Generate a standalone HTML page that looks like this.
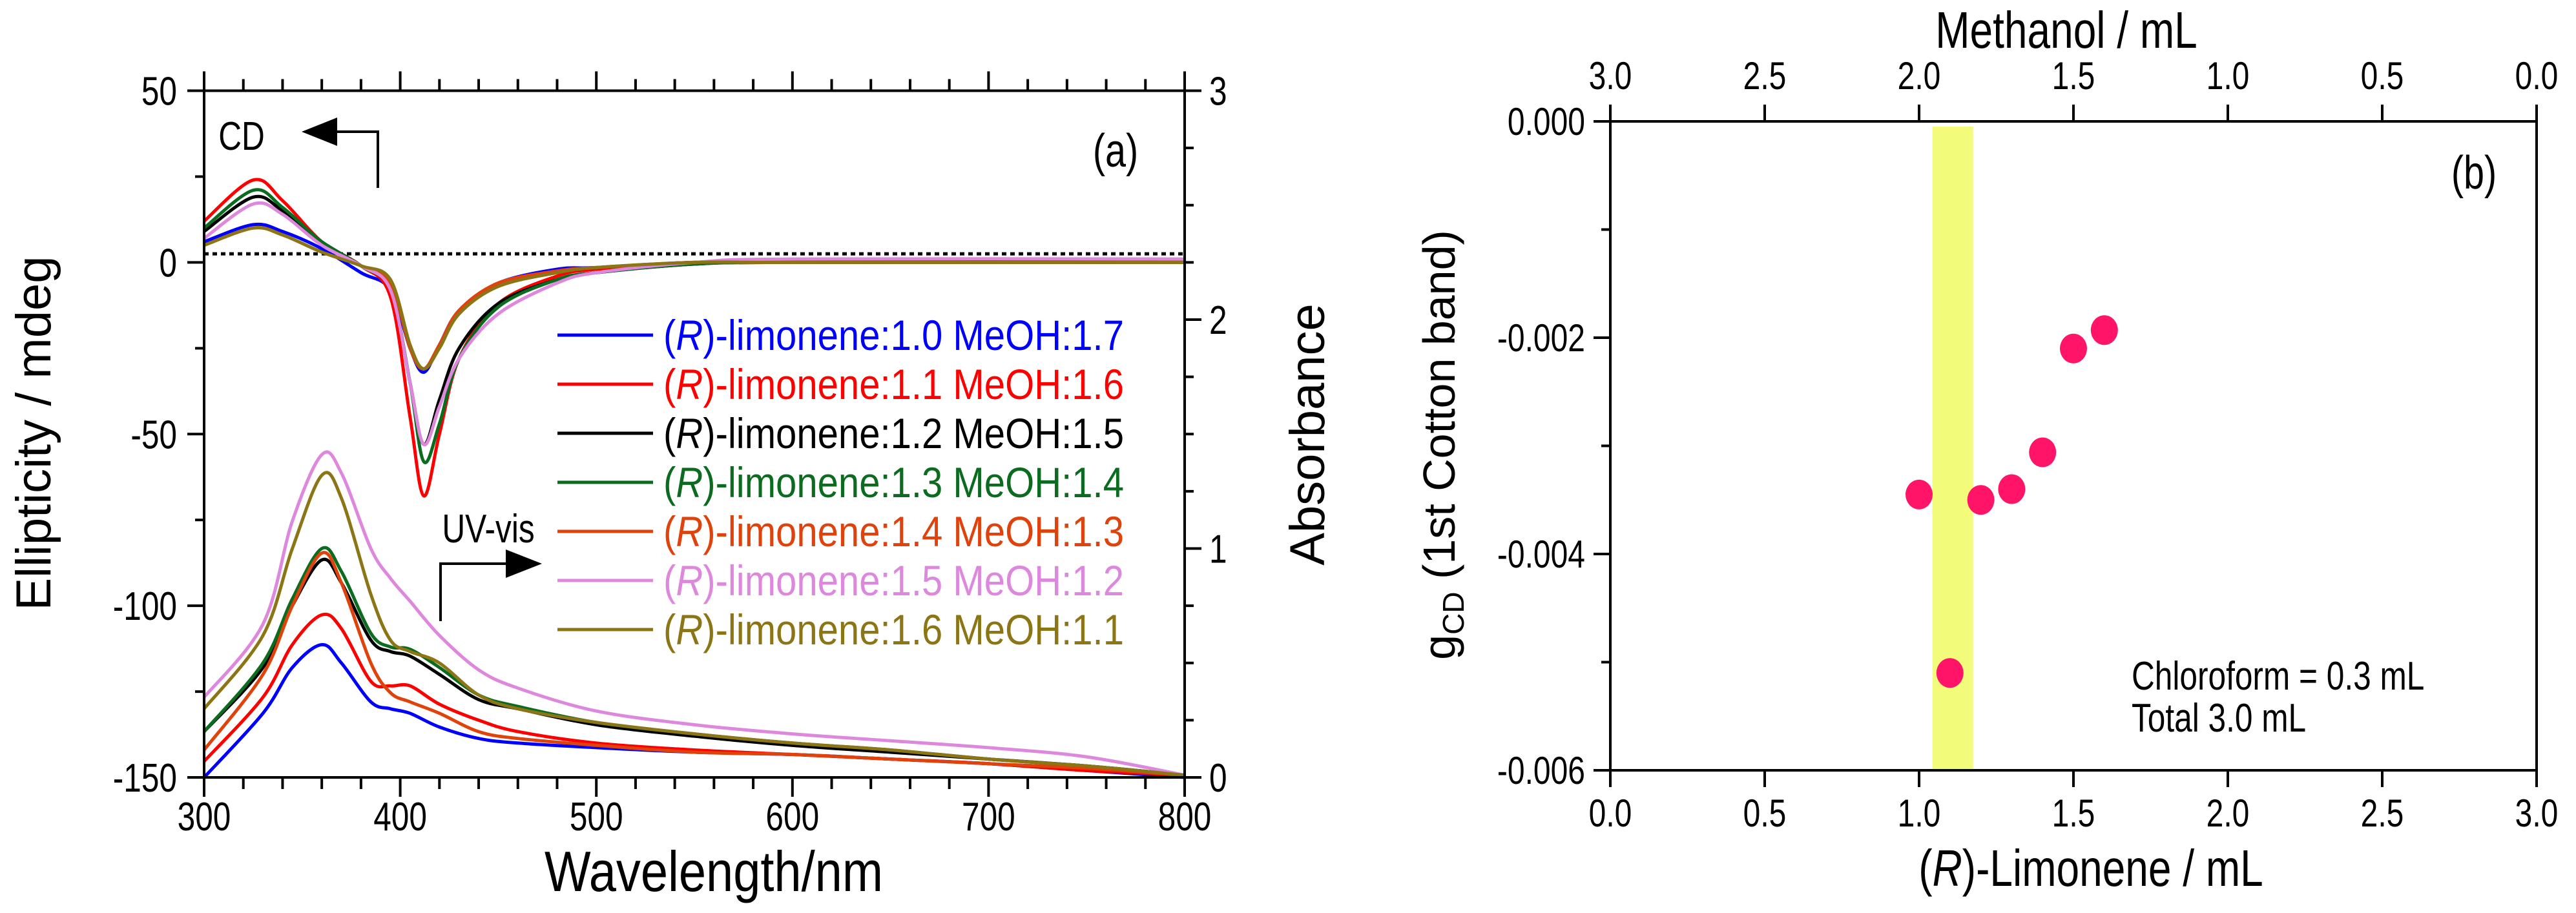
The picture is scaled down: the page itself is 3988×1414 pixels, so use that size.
<!DOCTYPE html>
<html><head><meta charset="utf-8"><style>
html,body{margin:0;padding:0;background:#fff}
svg text{font-family:"Liberation Sans Narrow","Liberation Sans",sans-serif;fill:#000}
.w{font-family:"Liberation Sans",sans-serif}
</style></head><body>
<svg id="fig" width="3988" height="1409" viewBox="0 0 3988 1409" xmlns="http://www.w3.org/2000/svg">
<g id="pa"></g>
<g id="pb"></g>
</svg>
<script>
// ---- Panel (a) data ----
const cdWl = [300,325,340,360,380,395,405,412,420,430,450,480,500,550,600,800];
const cdBlue   = [6,11,9,4,-3,-8,-25,-32,-24,-14,-6,-2,-1.5,0,0,0];
const cdRed    = [12,24,18,6,-1,-10,-45,-68,-50,-28,-12,-4,-2,0,0.5,0];
const cdBlack  = [9,19,15,6,-1,-8,-35,-53,-40,-25,-12,-5,-3,-0.5,0,0];
const cdGreen  = [10,21,16,6,-1,-8,-35,-58,-47,-28,-13,-5,-3,-0.5,0,0];
const cdOrange = [5,10,8,3,-1,-6,-25,-31,-24,-14,-6,-2.5,-1.5,0,0,0];
const cdPink   = [7,17,14,5,-1,-8,-35,-53,-42,-28,-15,-6,-3,0,1,1];
const cdOlive  = [5,10,8,3,-1,-5,-24,-31,-25,-15,-7,-3,-1.5,0,0,0];
const uvWl = [300,330,345,360,370,385,395,405,420,440,460,500,550,600,650,700,750,800];
const uvBlue   = [0.0,0.28,0.48,0.58,0.5,0.33,0.3,0.28,0.22,0.17,0.15,0.13,0.11,0.1,0.08,0.06,0.03,0.0];
const uvRed    = [0.07,0.35,0.58,0.71,0.65,0.42,0.4,0.4,0.32,0.25,0.2,0.15,0.12,0.1,0.08,0.06,0.03,0.01];
const uvBlack  = [0.2,0.48,0.75,0.95,0.85,0.6,0.55,0.53,0.45,0.34,0.3,0.23,0.18,0.14,0.11,0.08,0.05,0.01];
const uvGreen  = [0.2,0.5,0.78,1.0,0.9,0.63,0.57,0.56,0.48,0.36,0.31,0.24,0.19,0.15,0.12,0.08,0.05,0.01];
const uvOrange = [0.12,0.45,0.75,0.98,0.85,0.5,0.37,0.33,0.28,0.2,0.17,0.14,0.11,0.1,0.08,0.06,0.04,0.01];
const uvPink   = [0.35,0.67,1.12,1.41,1.33,1.0,0.87,0.77,0.62,0.47,0.39,0.29,0.23,0.19,0.16,0.13,0.09,0.01];
const uvOlive  = [0.3,0.62,1.0,1.32,1.22,0.8,0.6,0.55,0.5,0.36,0.3,0.24,0.19,0.15,0.12,0.08,0.05,0.01];
const seriesLabels = ["1.0 MeOH:1.7","1.1 MeOH:1.6","1.2 MeOH:1.5","1.3 MeOH:1.4","1.4 MeOH:1.3","1.5 MeOH:1.2","1.6 MeOH:1.1"];
const xTicksA = [300,400,500,600,700,800];
const yTicksA = [50,0,-50,-100,-150];
const yTicksA2 = [0,1,2,3];
// ---- Panel (b) data ----
const limonene = [1.0,1.1,1.2,1.3,1.4,1.5,1.6];
const gcd = [-0.00345,-0.0051,-0.0035,-0.0034,-0.00306,-0.0021,-0.00193];
const xTicksB = [0,0.5,1.0,1.5,2.0,2.5,3.0];
const yTicksB = [0,-0.002,-0.004,-0.006];
const bandRange = [1.043,1.175];

const NS="http://www.w3.org/2000/svg";
function mk(p,tag,at,txt){const e=document.createElementNS(NS,tag);for(const k in at)e.setAttribute(k,at[k]);if(txt!==undefined)e.textContent=txt;p.appendChild(e);return e;}
// narrow text: horizontally compressed
function nt(p,x,y,fs,anchor,txt){return mk(p,'text',{x:0,y:0,'font-size':fs,'text-anchor':anchor,transform:`translate(${x},${y}) scale(0.8,1)`},txt);}
const colors=["#0000ff","#ff0000","#000000","#0b6b1e","#e0420c","#dd88dd","#8b7514"];
const cdS=[cdBlue,cdRed,cdBlack,cdGreen,cdOrange,cdPink,cdOlive];
const uvS=[uvBlue,uvRed,uvBlack,uvGreen,uvOrange,uvPink,uvOlive];
const names=["blue","red","black","green","orange","pink","olive"];

// axes a
const AX0=316,AX1=1834,AY0=140.5,AY1=1204;
const xa=v=>AX0+(v-300)/500*(AX1-AX0);
const ya=v=>AY1-(v+150)/200*(AY1-AY0);
const ya2=v=>AY1-v/3*(AY1-AY0);
function smooth(pts){let d=`M${pts[0][0]},${pts[0][1]}`;for(let i=0;i<pts.length-1;i++){const p0=pts[Math.max(0,i-1)],p1=pts[i],p2=pts[i+1],p3=pts[Math.min(pts.length-1,i+2)];
const c1=[p1[0]+(p2[0]-p0[0])/6,p1[1]+(p2[1]-p0[1])/6],c2=[p2[0]-(p3[0]-p1[0])/6,p2[1]-(p3[1]-p1[1])/6];d+=`C${c1[0].toFixed(1)},${c1[1].toFixed(1)} ${c2[0].toFixed(1)},${c2[1].toFixed(1)} ${p2[0].toFixed(1)},${p2[1].toFixed(1)}`;}return d;}
const pa=document.getElementById('pa');
let e=mk(pa,'line',{x1:AX0,x2:AX1,y1:ya(2.5),y2:ya(2.5),stroke:'#000','stroke-width':5,'stroke-dasharray':'7,6'});


for(let s=0;s<7;s++){
 e=mk(pa,'path',{d:smooth(cdWl.map((w,i)=>[xa(w),ya(cdS[s][i])])),fill:'none',stroke:colors[s],'stroke-width':5});
 
 
 e=mk(pa,'path',{d:smooth(uvWl.map((w,i)=>[xa(w),ya2(uvS[s][i])])),fill:'none',stroke:colors[s],'stroke-width':5});
 
 
}
e=mk(pa,'path',{d:`M${AX0},${AY0}H${AX1}M${AX0},${AY1}H${AX1}M${AX0},${AY0}V${AY1}M${AX1},${AY0}V${AY1}`,stroke:'#000','stroke-width':4,fill:'none'});


let tk='';
for(let w=300;w<=800;w+=20){const x=xa(w),L=(w%100===0)?30:18;tk+=`M${x},${AY1}V${AY1+L}M${x},${AY0}V${AY0-L}`;}
for(let v=-150;v<=50;v+=50){tk+=`M${AX0},${ya(v)}H${AX0-26}`;}
for(let v=-150;v<50;v+=25){if(v%50)tk+=`M${AX0},${ya(v)}H${AX0-14}`;}
for(let v=0;v<=3;v+=0.25){const L=(v%1===0)?26:14;tk+=`M${AX1},${ya2(v)}H${AX1+L}`;}
e=mk(pa,'path',{d:tk,stroke:'#000','stroke-width':4});


xTicksA.forEach(v=>{e=nt(pa,xa(v),AY1+82,62,'middle',v);
 
 });
yTicksA.forEach(v=>{e=nt(pa,274,ya(v)+22,62,'end',v);
 
 });
yTicksA2.forEach(v=>{e=nt(pa,1872,ya2(v)+22,62,'start',v);
 
 });
e=mk(pa,'text',{x:1105,y:1380,'font-size':88,'text-anchor':'middle',textLength:524,lengthAdjust:'spacingAndGlyphs'},'Wavelength/nm');


e=mk(pa,'text',{class:'w',x:0,y:0,'font-size':76,'text-anchor':'middle',transform:'translate(78,671) rotate(-90)'},'Ellipticity / mdeg');


e=mk(pa,'text',{class:'w',x:0,y:0,'font-size':76,'text-anchor':'middle',transform:'translate(2050,673) rotate(-90)'},'Absorbance');


e=nt(pa,1727,258,72,'middle','(a)');


for(let s=0;s<7;s++){const y=519+76*s;
 e=mk(pa,'line',{x1:863,x2:1011,y1:y,y2:y,stroke:colors[s],'stroke-width':5});
 
 
 const t=mk(pa,'text',{x:1027,y:y+23,'font-size':66,textLength:713,lengthAdjust:'spacingAndGlyphs',style:'fill:'+colors[s]});
 
 
 t.innerHTML='(<tspan font-style="italic" style="fill:'+colors[s]+'">R</tspan>)-limonene:'+seriesLabels[s];
}
e=nt(pa,374,232,62,'middle','CD');


e=mk(pa,'path',{d:'M585,291V204H515',stroke:'#000','stroke-width':4,fill:'none'});


e=mk(pa,'path',{d:'M467,204L522,182L522,226Z',fill:'#000'});


e=nt(pa,756,840,62,'middle','UV-vis');


e=mk(pa,'path',{d:'M682,962V873H785',stroke:'#000','stroke-width':4,fill:'none'});


e=mk(pa,'path',{d:'M839,873L783,851L783,895Z',fill:'#000'});



// ---- panel b ----
const pb=document.getElementById('pb');
const BX0=2493,BX1=3927,BY0=188,BY1=1193;
const xb=v=>BX0+v/3*(BX1-BX0);
const yb=v=>BY0+(-v)/0.006*(BY1-BY0);
e=mk(pb,'rect',{x:xb(bandRange[0]),y:BY0+8,width:xb(bandRange[1])-xb(bandRange[0]),height:BY1-BY0-8,fill:'#f3fb7a'});


limonene.forEach((v,i)=>{e=mk(pb,'ellipse',{cx:xb(v),cy:yb(gcd[i]),rx:21,ry:23,fill:'#ff1468'});
 
 });
e=mk(pb,'path',{d:`M${BX0},${BY0}H${BX1}V${BY1}H${BX0}Z`,stroke:'#000','stroke-width':4,fill:'none'});


tk='';
xTicksB.forEach(v=>{tk+=`M${xb(v)},${BY1}V${BY1+26}M${xb(v)},${BY0}V${BY0-26}`;});
for(let k=0;k<=6;k++){const v=-k*0.001;tk+=`M${BX0},${yb(v)}H${BX0-(k%2?14:26)}`;}
e=mk(pb,'path',{d:tk,stroke:'#000','stroke-width':4});


xTicksB.forEach(v=>{e=nt(pb,xb(v),1280,60,'middle',v.toFixed(1));
 
 
 e=nt(pb,xb(v),138,60,'middle',(3-v).toFixed(1));
 
 });
yTicksB.forEach(v=>{e=nt(pb,2454,yb(v)+21,60,'end',v===0?'0.000':v.toFixed(3));
 
 });
e=nt(pb,3199,74,80,'middle','Methanol / mL');


e=mk(pb,'text',{x:0,y:0,'font-size':80,'text-anchor':'middle',transform:'translate(3237,1372) scale(0.8,1)'});


e.innerHTML='(<tspan font-style="italic">R</tspan>)-Limonene / mL';
e=mk(pb,'text',{class:'w',x:0,y:0,'font-size':70,'text-anchor':'middle',transform:'translate(2252,689) rotate(-90)'});


e.innerHTML='g<tspan font-size="46" dy="14">CD</tspan><tspan dy="-14"> (1st Cotton band)</tspan>';
e=nt(pb,3830,292,72,'middle','(b)');


e=nt(pb,3300,1068,62,'start','Chloroform = 0.3 mL');


e=nt(pb,3300,1133,62,'start','Total 3.0 mL');


</script>
</body></html>
